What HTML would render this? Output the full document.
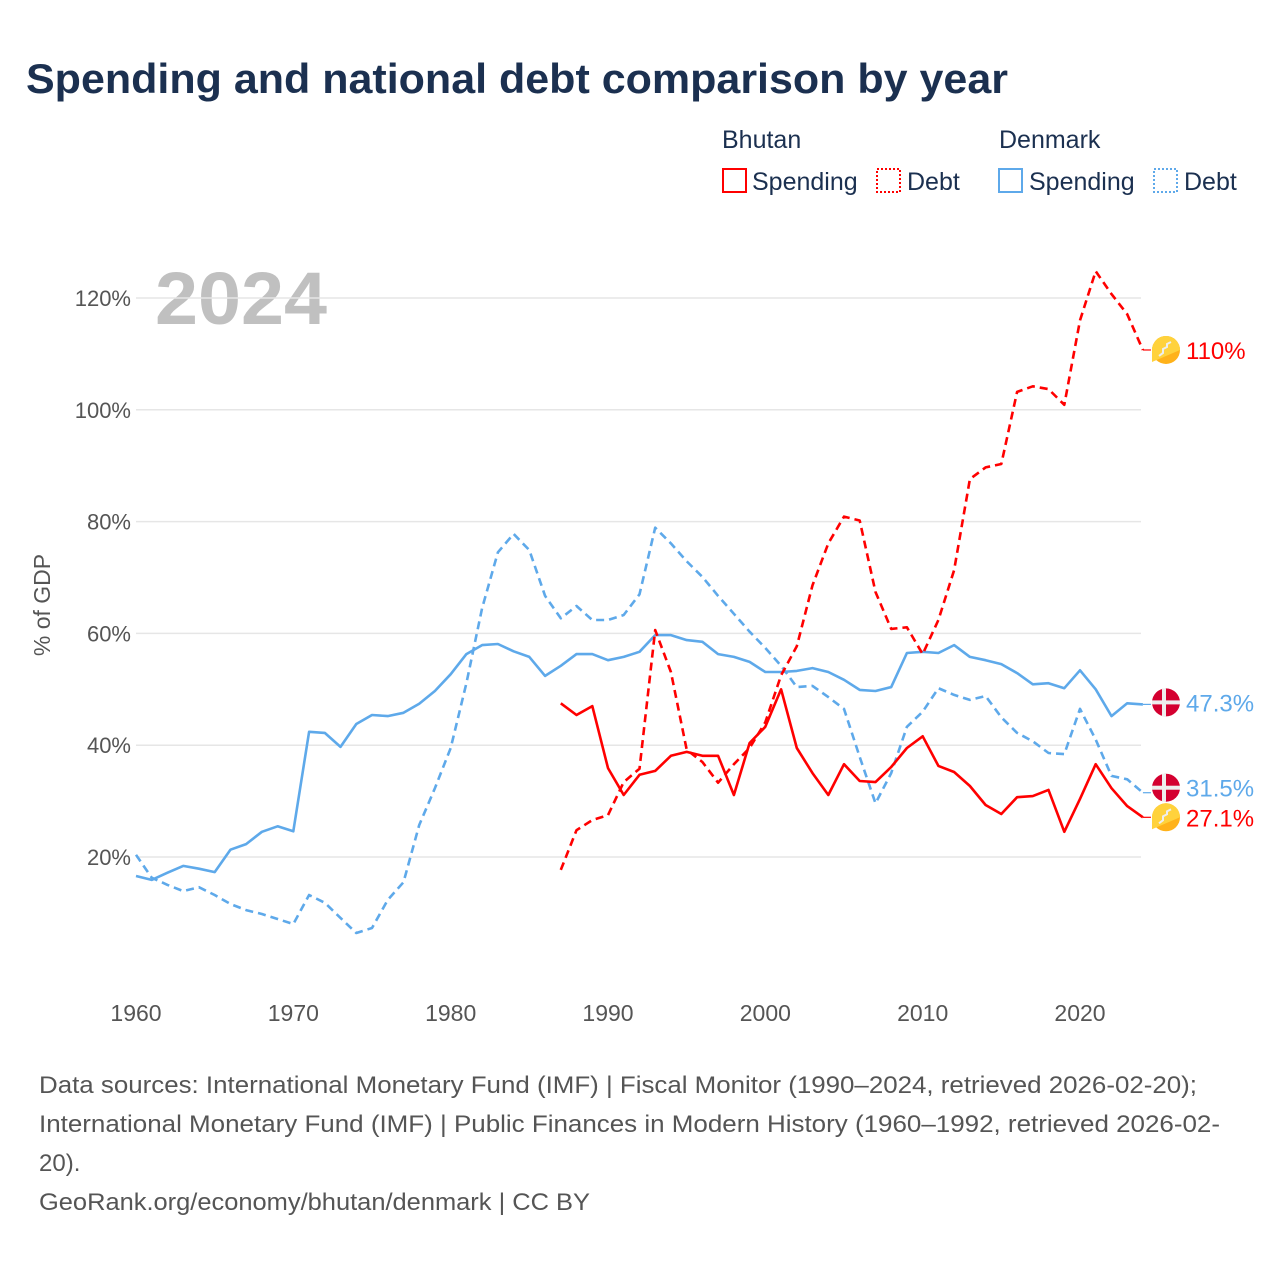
<!DOCTYPE html>
<html><head><meta charset="utf-8"><style>
body{margin:0;background:#fff;font-family:"Liberation Sans",sans-serif;}
#wrap{position:relative;width:1280px;height:1280px;overflow:hidden;}
</style></head><body>
<div id="wrap">
<svg id="svg" width="1280" height="1280" xmlns="http://www.w3.org/2000/svg">
<text x="26" y="93" font-size="42" font-weight="bold" fill="#1b3050" textLength="982" lengthAdjust="spacingAndGlyphs">Spending and national debt comparison by year</text>
<g font-size="25" fill="#1b3050">
<text x="722" y="148">Bhutan</text>
<text x="999" y="148">Denmark</text>
<g><rect x="723" y="169" width="23" height="23" fill="none" stroke="#ff0000" stroke-width="2"/><text x="752" y="190">Spending</text></g>
<g><rect x="877" y="169" width="23" height="23" fill="none" stroke="#ff0000" stroke-width="2" stroke-dasharray="2,2"/><text x="907" y="190">Debt</text></g>
<g><rect x="999" y="169" width="23" height="23" fill="none" stroke="#5ea9ea" stroke-width="2"/><text x="1029" y="190">Spending</text></g>
<g><rect x="1154" y="169" width="23" height="23" fill="none" stroke="#5ea9ea" stroke-width="2" stroke-dasharray="2,2"/><text x="1184" y="190">Debt</text></g>
</g>
<text x="155" y="324" font-size="74" font-weight="bold" fill="#c0c0c0" textLength="172" lengthAdjust="spacingAndGlyphs">2024</text>
<text transform="translate(50,605) rotate(-90)" text-anchor="middle" font-size="23" fill="#555">% of GDP</text>
<g id="grid"></g><g id="series"></g><g id="labels"></g>
<g font-size="24" fill="#555">
<text x="39" y="1093" textLength="1158" lengthAdjust="spacingAndGlyphs">Data sources: International Monetary Fund (IMF) | Fiscal Monitor (1990–2024, retrieved 2026-02-20);</text>
<text x="39" y="1132" textLength="1181" lengthAdjust="spacingAndGlyphs">International Monetary Fund (IMF) | Public Finances in Modern History (1960–1992, retrieved 2026-02-</text>
<text x="39" y="1171">20).</text>
<text x="39" y="1210" textLength="551" lengthAdjust="spacingAndGlyphs">GeoRank.org/economy/bhutan/denmark | CC BY</text>
</g>
</svg>
</div>
<script>
const yTicks=[20,40,60,80,100,120];
const xTicks=[1960,1970,1980,1990,2000,2010,2020];
const dkYears0=1960;
const dkSpending=[16.6,15.9,17.2,18.4,17.9,17.3,21.3,22.3,24.5,25.5,24.6,42.4,42.2,39.7,43.8,45.4,45.2,45.8,47.4,49.7,52.7,56.3,57.9,58.1,56.8,55.8,52.4,54.2,56.3,56.3,55.2,55.8,56.7,59.7,59.7,58.8,58.5,56.3,55.8,54.9,53.1,53.1,53.3,53.8,53.1,51.7,49.9,49.7,50.4,56.5,56.7,56.5,57.9,55.8,55.2,54.5,52.9,50.9,51.1,50.2,53.4,50.0,45.2,47.5,47.3];
const dkDebt=[20.4,16.3,15.0,13.9,14.6,13.2,11.6,10.5,9.8,8.9,8.0,13.2,11.8,9.1,6.4,7.3,12.3,15.5,25.7,32.3,39.5,51.1,64.5,74.5,77.8,74.9,66.7,62.7,64.9,62.4,62.4,63.3,67.0,78.9,76.1,72.9,70.1,66.7,63.5,60.3,57.4,54.2,50.4,50.6,48.6,46.5,37.9,29.6,35.0,43.3,46.0,50.2,49.0,48.1,48.8,45.0,42.2,40.7,38.6,38.4,46.5,41.0,34.5,33.9,31.5];
const btYears0=1987;
const btSpending=[47.5,45.4,47.0,35.9,31.1,34.7,35.4,38.1,38.8,38.1,38.1,31.1,40.4,43.3,50.0,39.5,35.0,31.1,36.6,33.6,33.4,36.1,39.5,41.6,36.3,35.2,32.7,29.3,27.7,30.7,30.9,32.0,24.5,30.4,36.6,32.3,29.1,27.1];
const btDebt=[17.7,24.8,26.6,27.5,33.4,35.8,60.6,53.1,39.2,37.0,33.3,36.6,39.5,44.1,52.5,57.7,68.6,76.1,80.9,80.2,67.4,60.8,61.1,56.3,62.4,71.3,87.6,89.7,90.3,103.2,104.2,103.7,100.9,116.0,124.8,120.7,117.1,110.7];
const endLabels=["110%","47.3%","31.5%","27.1%"];

const X=yr=>136+(yr-1960)*(1080-136)/60;
const Y=v=>968.8-v*(857-298)/100;
const NS="http://www.w3.org/2000/svg";
function mk(tag,attrs,parent){const e=document.createElementNS(NS,tag);for(const k in attrs)e.setAttribute(k,attrs[k]);parent.appendChild(e);return e;}
const grid=document.getElementById('grid');
yTicks.forEach(t=>{
  const l=mk('line',{x1:136,x2:1141,y1:Y(t),y2:Y(t),stroke:'#e6e6e6','stroke-width':1.5},grid);
  
  
  const tx=mk('text',{x:131,y:Y(t)+8,'text-anchor':'end','font-size':22,fill:'#555'},grid);
  tx.textContent=t+'%';
  
  
});
xTicks.forEach(t=>{
  const tx=mk('text',{x:X(t),y:1021,'text-anchor':'middle','font-size':23,fill:'#555'},grid);
  tx.textContent=t;
  
  
});
const ser=document.getElementById('series');
function line(arr,y0,color,dash,name){
  const pts=arr.map((v,i)=>X(y0+i).toFixed(1)+','+Y(v).toFixed(1)).join(' ');
  const p=mk('polyline',{points:pts,fill:'none',stroke:color,'stroke-width':2.6,'stroke-linejoin':'round'},ser);
  if(dash)p.setAttribute('stroke-dasharray',dash);
  
  
  const last=arr[arr.length-1];
  const c=mk('line',{x1:X(y0+arr.length-1),x2:X(y0+arr.length-1)+8,y1:Y(last),y2:Y(last),stroke:color,'stroke-width':1.2},ser);
  
  
}
line(dkSpending,dkYears0,'#5ea9ea',null,'denmark-spending-line');
line(dkDebt,dkYears0,'#5ea9ea','8,5','denmark-debt-line');
line(btSpending,btYears0,'#ff0000',null,'bhutan-spending-line');
line(btDebt,btYears0,'#ff0000','8,5','bhutan-debt-line');

const lab=document.getElementById('labels');
const ends=[[btDebt,'#ff0000','bt',0],[dkSpending,'#5ea9ea','dk',-2],[dkDebt,'#5ea9ea','dk',-5],[btSpending,'#ff0000','bt',0]];
ends.forEach((e,i)=>{
  const v=e[0][e[0].length-1];let y=Y(v)+e[3];
  const g=mk('g',{},lab);
  
  
  if(e[2]==='bt'){
    mk('circle',{cx:1166,cy:y,r:14,fill:'#ffb21a'},g);
    mk('path',{d:`M1152 ${y} A14 14 0 0 1 1180 ${y} L1152 ${y+12}Z`,fill:'#ffd23c'},g);
    mk('path',{d:`M1159 ${y+6} l4 -3 l0 -4 l4 -2 l0 -3 l4 -2`,fill:'none',stroke:'#eee','stroke-width':2},g);
  }else{
    mk('circle',{cx:1166,cy:y,r:14,fill:'#d40030'},g);
    mk('rect',{x:1152,y:y-2,width:28,height:4,fill:'#eee'},g);
    mk('rect',{x:1162,y:y-14,width:4,height:28,fill:'#eee'},g);
  }
  const t=mk('text',{x:1186,y:y+9,'font-size':24,fill:e[1]},g);
  t.textContent=endLabels[i];
});
</script>
</body></html>
